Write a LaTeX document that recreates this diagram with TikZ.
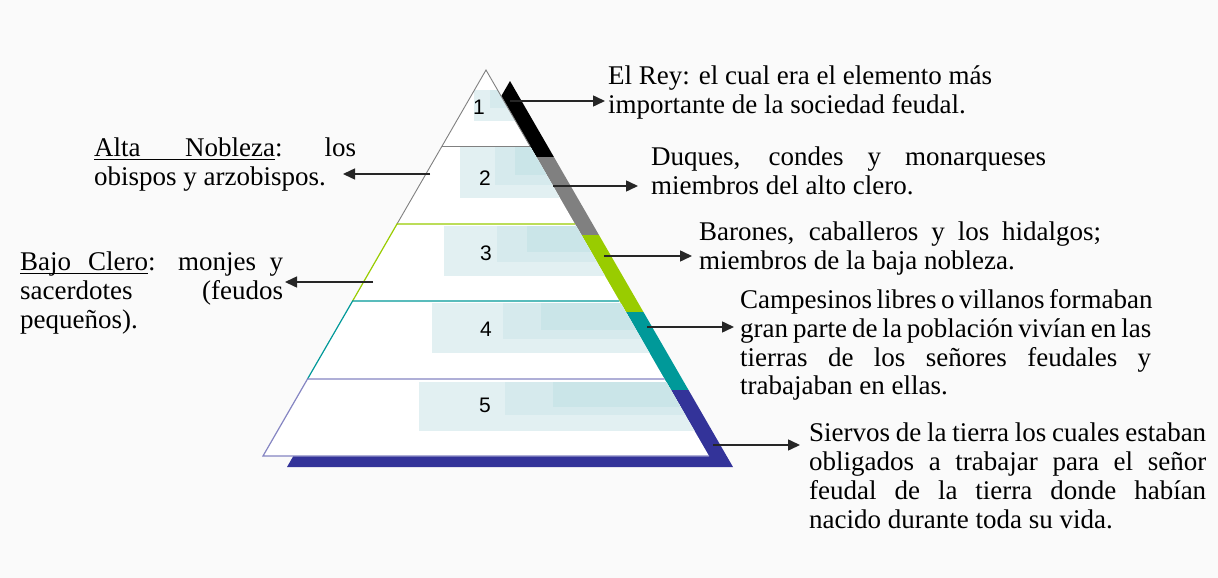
\documentclass[tikz,border=0pt]{standalone}
\usepackage{fontspec}
\setmainfont{Liberation Serif}
\newfontfamily\numfont{Liberation Sans}
\usetikzlibrary{arrows.meta}
\definecolor{reyblack}{RGB}{0,0,0}
\definecolor{clerogray}{RGB}{128,128,128}
\definecolor{nobgreen}{RGB}{153,204,0}
\definecolor{campteal}{RGB}{0,153,153}
\definecolor{siervblue}{RGB}{51,51,153}
\definecolor{boxa}{RGB}{226,240,242}
\definecolor{boxb}{RGB}{214,234,237}
\definecolor{boxc}{RGB}{202,229,232}
\definecolor{fondo}{RGB}{250,250,250}
\newcommand{\topstrut}{\rule{0pt}{22pt}}
\newcommand{\subrayado}[2]{\makebox[#1][s]{#2}\llap{\rule[-3.5pt]{#1}{1.2pt}}}

\begin{document}
\begin{tikzpicture}[x=1pt, y=-1pt,
  txt/.style={anchor=north west, inner sep=0pt, align=left, font=\fontsize{27}{28.8}\selectfont},
  num/.style={font=\numfont\fontsize{21}{21}\selectfont, inner sep=0pt},
  flecha/.style={-{Triangle[length=12pt,width=11pt]}, line width=1.5pt, black!85},
  nivel/.style={line width=1.2pt}
]
% fondo
\fill[fondo] (0,0) rectangle (1218,578);
\useasboundingbox (0,0) rectangle (1218,578);

% sombra de colores
\foreach \ya/\yb/\col in {70/146/reyblack, 146/224/clerogray, 224/301/nobgreen, 301/379/campteal, 379/456/siervblue}
  \fill[\col] ({510-(\ya-70)*0.5777},{\ya+11}) -- ({510+(\ya-70)*0.5777},{\ya+11})
    -- ({510+(\yb-70)*0.5777},{\yb+11}) -- ({510-(\yb-70)*0.5777},{\yb+11}) -- cycle;

% piramide
\fill[white] (486,70) -- (709,456) -- (263,456) -- cycle;

% cajas detras de los numeros
\begin{scope}
  \clip (486,70) -- (709,456) -- (263,456) -- cycle;
  \foreach \xa/\ya/\yaa/\xb/\yb/\xc/\yc in {474/90/121/490/108/505/100, 460/147/198/495/185/515/175,
      444/226/276/497/262/527/252, 432/303/353/503/339/541/330, 419/382/431/505/415/553/407} {
    \fill[boxa] (\xa,\ya) rectangle (800,\yaa);
    \fill[boxb] (\xb,\ya) rectangle (800,\yb);
    \fill[boxc] (\xc,\ya) rectangle (800,\yc);
  }
\end{scope}

% lineas de nivel
\draw[clerogray, line width=0.9pt] (397,224) -- (442.1,146) -- (486,70) -- (530,146);
\draw[clerogray, line width=0.9pt] (442.1,146) -- (530,146);
\draw[nobgreen, nivel] (352.6,301) -- (397,224) -- (575,224);
\draw[campteal, nivel] (307.5,379) -- (352.6,301) -- (619.4,301);
\draw[siervblue!60, nivel] (664.5,379) -- (307.5,379) -- (263,456) -- (709,456);

% numeros
\node[num] (n1) at (479,107) {1};
\node[num] (n2) at (485,178) {2};
\node[num] (n3) at (486,253) {3};
\node[num] (n4) at (486,329) {4};
\node[num] (n5) at (485,405) {5};

% textos
\node[txt] (rey) at (608,62) {\topstrut El Rey: el cual era el elemento más\\
  importante de la sociedad feudal.};
\node[txt] (duques) at (651,143.7) {\topstrut\makebox[395pt][s]{Duques, condes y monarqueses}\\
  miembros del alto clero.};
\node[txt] (barones) at (699,218) {\topstrut\makebox[402pt][s]{Barones, caballeros y los hidalgos;}\\
  miembros de la baja nobleza.};
\node[txt] (campesinos) at (740,286.3) {\topstrut\makebox[411pt][s]{Campesinos libres o villanos formaban}\\
  \makebox[411pt][s]{gran parte de la población vivían en las}\\
  \makebox[411pt][s]{tierras de los señores feudales y}\\
  trabajaban en ellas.};
\node[txt] (siervos) at (809,419.7) {\topstrut\makebox[397pt][s]{Siervos de la tierra los cuales estaban}\\
  \makebox[397pt][s]{obligados a trabajar para el señor}\\
  \makebox[397pt][s]{feudal de la tierra donde habían}\\
  nacido durante toda su vida.};
\node[txt] (alta) at (94,134) {\topstrut\makebox[262pt][s]{\subrayado{181pt}{Alta Nobleza}: los}\\
  obispos y arzobispos.};
\node[txt] (bajo) at (20,248.7) {\topstrut\makebox[263pt][s]{\subrayado{128pt}{Bajo Clero}: monjes y}\\
  \makebox[263pt][s]{sacerdotes (feudos}\\
  pequeños).};

% flechas
\coordinate (c1) at (510,101);
\coordinate (c2) at (553,186);
\coordinate (c3) at (604,256);
\coordinate (c4) at (647,327);
\coordinate (c5) at (713,445);
\coordinate (cl2) at (430,174);
\coordinate (cl3) at (373,282);
\coordinate (t2) at (343,174);
\coordinate (t3) at (285,282);
\draw[flecha, shorten >=3pt] (c1) -- (c1 -| rey.west);
\draw[flecha, shorten >=13pt] (c2) -- (c2 -| duques.west);
\draw[flecha, shorten >=7pt] (c3) -- (c3 -| barones.west);
\draw[flecha, shorten >=6pt] (c4) -- (c4 -| campesinos.west);
\draw[flecha, shorten >=9pt] (c5) -- (c5 -| siervos.west);
\draw[flecha] (cl2) -- (t2);
\draw[flecha] (cl3) -- (t3);
\end{tikzpicture}
\end{document}
